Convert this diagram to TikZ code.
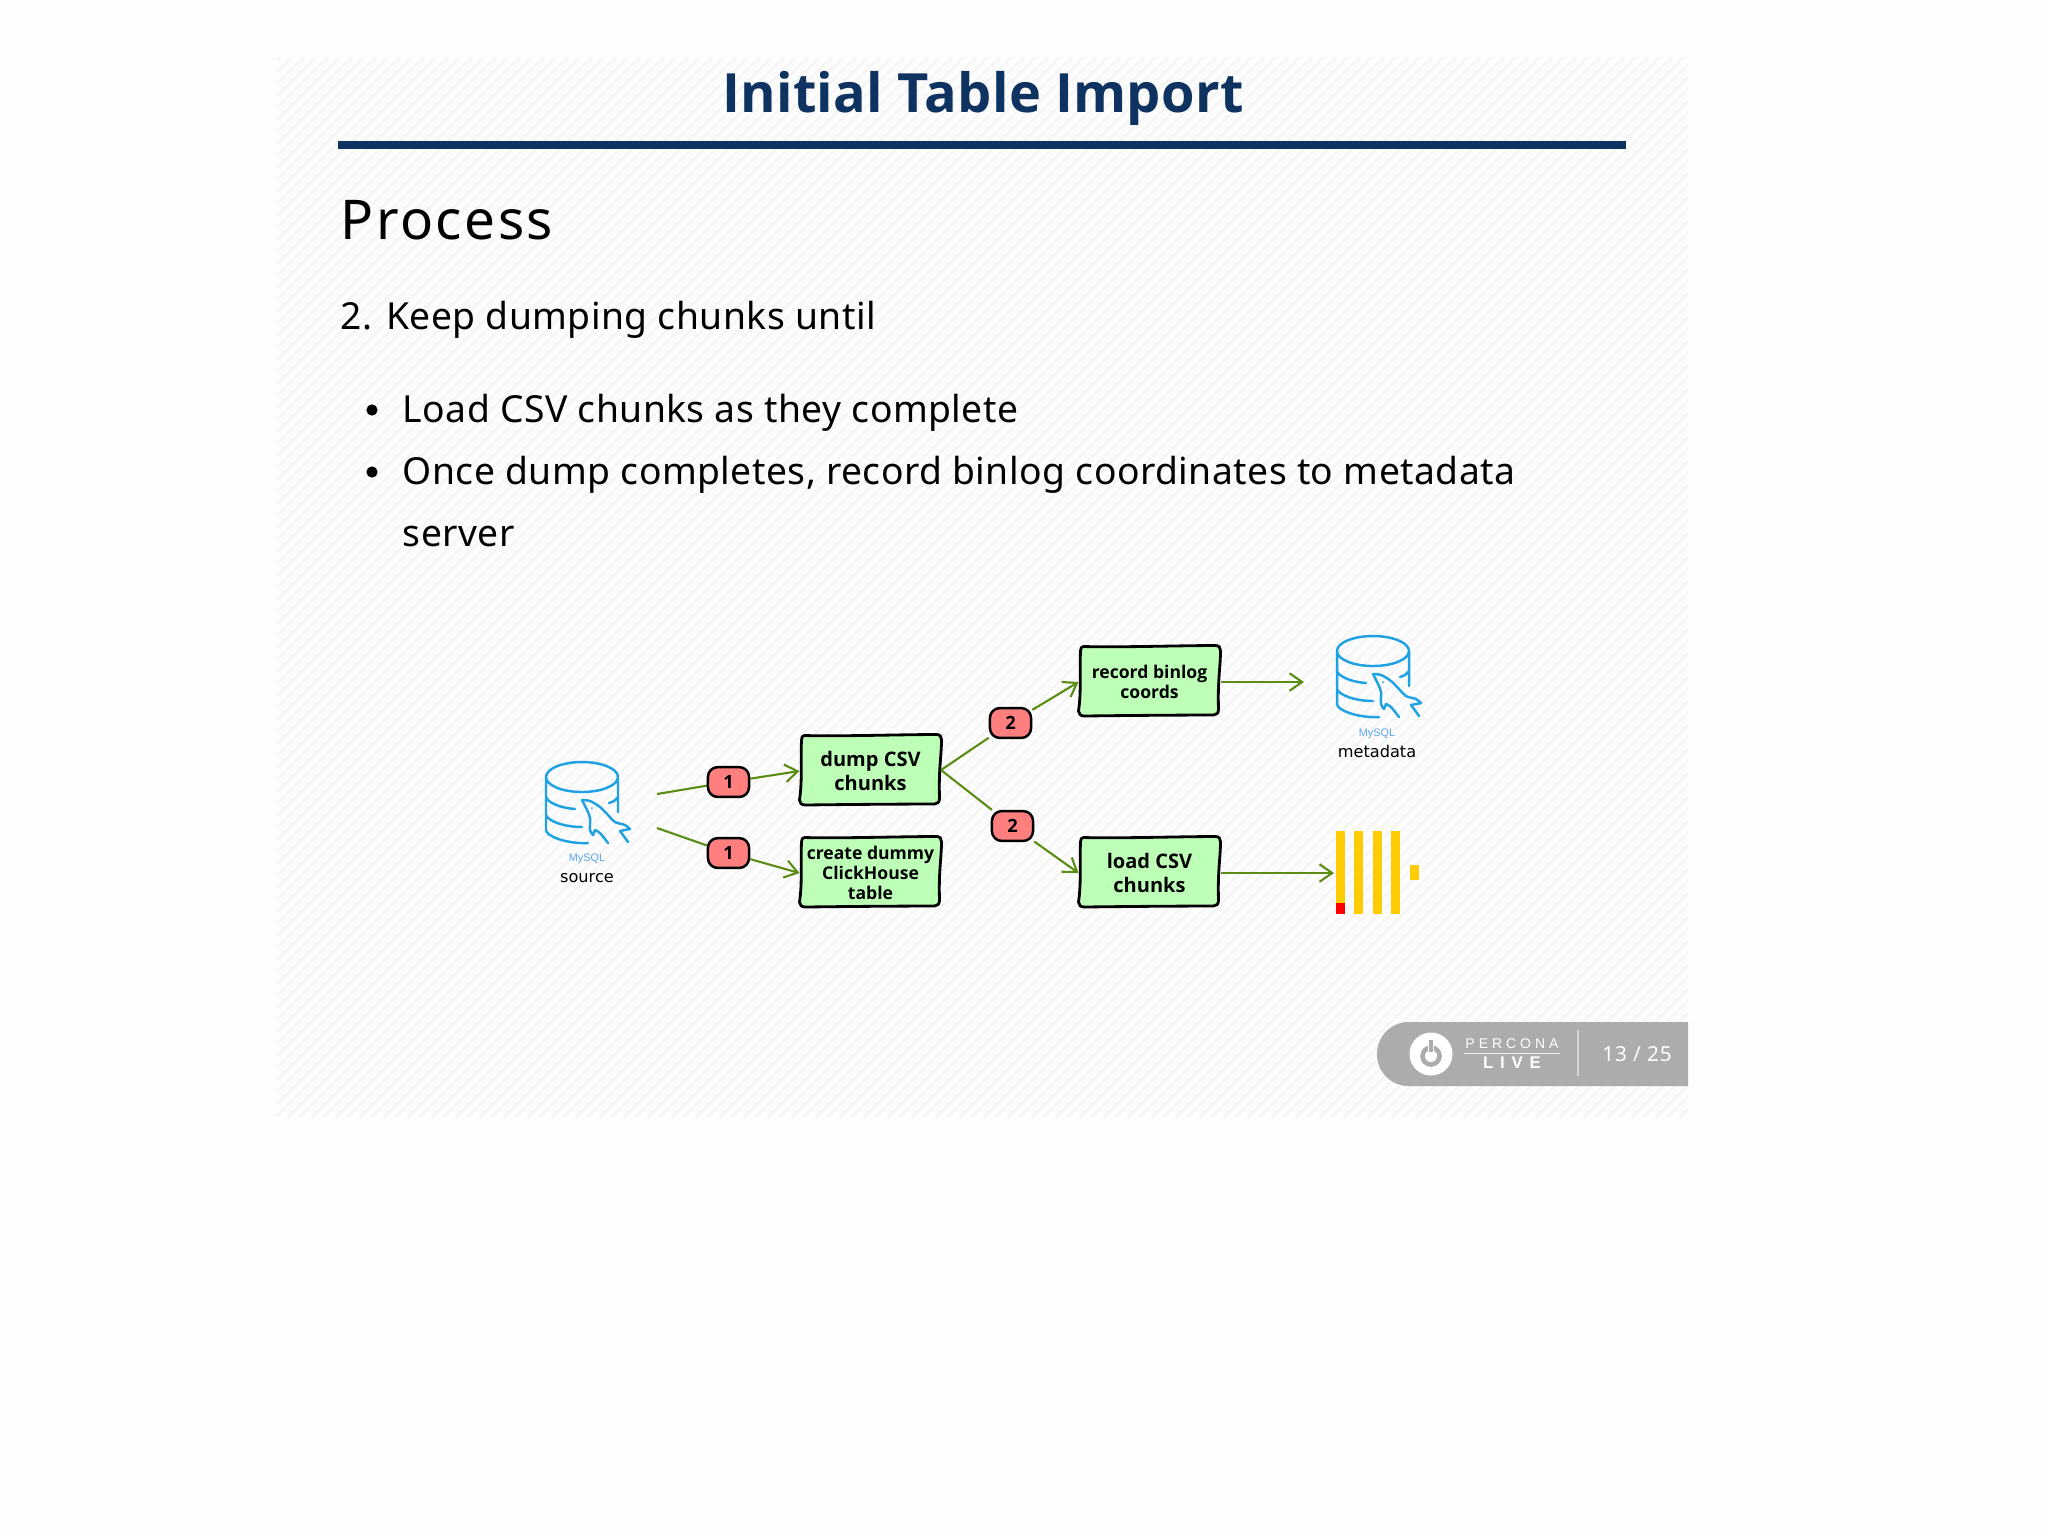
\documentclass[tikz,border=0pt]{standalone}
\usepackage{fontspec}
\usetikzlibrary{shapes,arrows,arrows.meta,backgrounds,positioning,fit}
\setmainfont{Noto Sans}
\newfontfamily\sketchfont{Open Sans}
\newfontfamily\capfont{DejaVu Sans}
\newfontfamily\tagfont{Liberation Sans}
\definecolor{navy}{HTML}{0E3360}
\definecolor{arrowgreen}{HTML}{5B8C14}
\definecolor{boxgreen}{HTML}{BEFFB8}
\definecolor{badgered}{HTML}{FF7F7F}
\definecolor{sqlblue}{HTML}{1FA2E4}
\definecolor{tagblue}{HTML}{5AA5EA}
\definecolor{clickyellow}{HTML}{FFCC01}
\definecolor{pillgray}{HTML}{ACACAE}
\definecolor{slidebg}{HTML}{FDFDFD}
\definecolor{hatch}{HTML}{F5F5F5}
\newcommand{\boxoutline}{
	(-66,-34.5) .. controls (-30,-33.5) and (30,-35.5) .. (66,-35.5)
	.. controls (70,-35.5) and (71,-33) .. (71,-30)
	.. controls (71,-15) and (68,0) .. (69,28)
	.. controls (69,32) and (67,34) .. (64,34)
	.. controls (30,34) and (-30,34.5) .. (-65,35)
	.. controls (-69,35) and (-71,33) .. (-71,30)
	.. controls (-68,10) and (-70,-10) .. (-69,-30)
	.. controls (-69,-33) and (-68,-34.5) .. (-66,-34.5) -- cycle
}
\tikzset{
	dbicon/.pic={
		\draw [sqlblue, line width=0.7pt, line cap=round, line join=round]
			(36,15) ellipse [x radius=36, y radius=15]
			(0,15) -- (0,68) .. controls (0,74) and (20,82) .. (42,81)
			(72,15) -- (72,50)
			(0,35) .. controls (2,41) and (15,46) .. (29,47)
			(0,53) .. controls (2,59) and (18,65) .. (36,65)
			(63,41) .. controls (67,40) and (70,38) .. (72,35);
		\draw [sqlblue, line width=0.7pt, line cap=round, line join=round]
			plot [smooth, tension=0.55] coordinates {(36,38) (44,39) (54,45) (62,53) (69,60) (79,63) (84,67)}
			-- (74,69)
			plot [smooth, tension=0.55] coordinates {(74,69) (77,73) (82,80)};
		\draw [sqlblue, line width=0.7pt, line cap=round, line join=round]
			plot [smooth, tension=0.55] coordinates {(36,38) (41,48) (44,56) (44,68) (47,73)}
			-- (49,68)
			plot [smooth, tension=0.55] coordinates {(49,68) (54,71) (62,81)};
		\fill [sqlblue] (46,46) circle (1);
	}
}

\begin{document}
\begin{tikzpicture}[x=0.1mm, y=-0.1mm, >={Straight Barb[length=3.6pt,width=5pt]}]
	\tikzstyle{Title}	= [anchor=base, inner sep=0pt, navy, font=\sketchfont\bfseries\addfontfeatures{LetterSpace=0.5}\fontsize{15.4}{18}\selectfont]
	\tikzstyle{Heading}	= [anchor=base west, inner sep=0pt, font=\addfontfeatures{LetterSpace=4.5}\fontsize{15.6}{18}\selectfont]
	\tikzstyle{Body}	= [anchor=base west, inner sep=0pt, font=\addfontfeatures{LetterSpace=1.3}\fontsize{10.6}{13}\selectfont]
	\tikzstyle{Dot}		= [circle, fill=black, minimum size=3.2pt, inner sep=0pt]
	\tikzstyle{Outline}	= [draw=black, line width=0.8pt, fill=boxgreen, line join=round]
	\tikzstyle{Stepbox}	= [minimum width=40pt, minimum height=19pt, inner sep=0pt, align=center, font=\sketchfont\bfseries\fontsize{5.7}{6.7}\selectfont]
	\tikzstyle{StepSmall}	= [font=\sketchfont\bfseries\fontsize{5.0}{5.7}\selectfont]
	\tikzstyle{Badge}	= [draw=black, line width=0.7pt, fill=badgered, rounded corners=2.8pt, minimum width=11.7pt, minimum height=8.5pt, inner sep=0pt, font=\sketchfont\bfseries\fontsize{5.2}{5}\selectfont]
	\tikzstyle{Flow}	= [line width=0.6pt, arrowgreen]
	\tikzstyle{Caption}	= [inner sep=0pt, font=\capfont\fontsize{4.6}{5}\selectfont]
	\tikzstyle{SqlTag}	= [inner sep=0pt, tagblue, font=\tagfont\fontsize{3.1}{3}\selectfont]
	\tikzstyle{Foot}	= [inner sep=0pt, white]

	\useasboundingbox (0,0) rectangle (2048,1536);

	\begin{scope}[on background layer]
		\fill [white!99.5!black] (0,0) rectangle (2048,1536);
		% slide with its hatching
		\fill [slidebg] (277,57) rectangle (1688,1117);
		\begin{scope}
			\clip (277,57) rectangle (1688,1117);
			\foreach \x in {-780,-768,...,1680} {
				\draw [hatch, line width=0.6pt] (\x,1117) -- ++(1060,-1060);
			}
		\end{scope}
	\end{scope}

	% header and text
	\node (title) at (983,112) [Title] {Initial Table Import};
	\fill [navy] (338,141) rectangle (1626,149);
	\node (process) at (340,239) [Heading] {Process};
	\node (step2) at (340,329) [Body] {2. Keep dumping chunks until};
	\node (dot1) at (372,410) [Dot] {};
	\node (line1) at (402,422) [Body] {Load CSV chunks as they complete};
	\node (dot2) at (372,472) [Dot] {};
	\node (line2) at (402,484) [Body] {Once dump completes, record binlog coordinates to metadata};
	\node (line3) at (402,546) [Body] {server};

	% steps
	\node (dump) at (870.5,771) [Stepbox] {dump CSV\\chunks};
	\node (create) at (870.5,873) [Stepbox, StepSmall] {create dummy\\ClickHouse\\table};
	\node (record) at (1149.5,682) [Stepbox, StepSmall] {record binlog\\coords};
	\node (load) at (1149.5,873) [Stepbox] {load CSV\\chunks};

	\begin{scope}[on background layer]
		\foreach \n in {dump,create,record,load} {
			\draw [Outline, shift={(\n.center)}, yshift=0.1mm] \boxoutline;
		}
	\end{scope}

	\node (b1) at (728.5,782) [Badge] {1};
	\node (b2) at (728.5,853) [Badge] {1};
	\node (b3) at (1010.5,723) [Badge] {2};
	\node (b4) at (1012.5,826) [Badge] {2};

	% stores
	\pic at (546,762) {dbicon};
	\node (tag0) at (587,859) [SqlTag] {MySQL};
	\node (source) at (587,878) [Caption] {source};
	\pic at (1337,636) {dbicon};
	\node (tag1) at (1377,734) [SqlTag] {MySQL};
	\node (metadata) at (1377,751) [Caption] {metadata};

	\foreach \x in {1336,1354,1373,1391} {
		\fill [clickyellow] (\x,831) rectangle (\x+9,914);
	}
	\fill [clickyellow] (1410,865) rectangle (1419,880);
	\fill [red] (1336,903) rectangle (1345,914);

	\coordinate (s1) at (657,794);
	\coordinate (s2) at (657,828);
	\coordinate (m1) at (1304,682);
	\coordinate (c1) at (1334,873);
	\coordinate (d1) at (941,770);

	\begin{scope}[on background layer]
		\draw [-] (s1) to (b1) [Flow];
		\draw [-] (s2) to (b2) [Flow];
		\draw [-] (d1) to (b3) [Flow];
		\draw [-] (d1) to (b4) [Flow];
	\end{scope}
	\draw [->] (b1) to (dump.west) [Flow];
	\draw [->] (b2) to (create.west) [Flow];
	\draw [->] (b3) to (record.west) [Flow];
	\draw [->] (b4) to (load.west) [Flow];
	\draw [->] (record) to (m1) [Flow];
	\draw [->] (load) to (c1) [Flow];

	% footer
	\fill [pillgray] (1688,1022) [rounded corners=9pt] -- (1377,1022) -- (1377,1086) [sharp corners] -- (1688,1086) -- cycle;
	\fill [white] (1431,1054) circle (21.5);
	\draw [pillgray, line width=1.3pt] (1431,1056) circle (8.5);
	\draw [white, line width=1.6pt] (1431,1040) -- (1431,1052);
	\draw [pillgray, line width=0.9pt] (1431,1040) -- (1431,1052);
	\node (percona) at (1512,1044) [Foot, font=\tagfont\addfontfeatures{LetterSpace=28}\fontsize{4}{4}\selectfont] {PERCONA};
	\draw [white!80!pillgray, line width=0.3pt] (1464,1053) -- (1560,1053);
	\node (live) at (1512,1063) [Foot, font=\tagfont\bfseries\addfontfeatures{LetterSpace=40}\fontsize{4.8}{5}\selectfont] {LIVE};
	\draw [white!50!pillgray, line width=0.3pt] (1578,1030) -- (1578,1076);
	\node (page) at (1637,1054) [Foot, font=\addfontfeatures{LetterSpace=4}\fontsize{5.9}{6}\selectfont] {13 / 25};
\end{tikzpicture}
\end{document}
